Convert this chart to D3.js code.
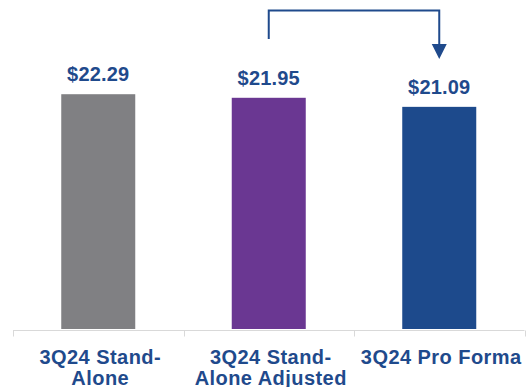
<!DOCTYPE html>
<html>
<head>
<meta charset="utf-8">
<script src="https://cdn.jsdelivr.net/npm/d3@7"></script>
<style>
  html, body { margin: 0; padding: 0; background: #fff; }
  svg { display: block; }
</style>
</head>
<body>
<div id="chart"></div>
<script>
// Book value per share, three views of 3Q24
const categories = ["3Q24 Stand-Alone", "3Q24 Stand-Alone Adjusted", "3Q24 Pro Forma"];
const labelLines = [["3Q24 Stand-", "Alone"], ["3Q24 Stand-", "Alone Adjusted"], ["3Q24 Pro Forma"]];
const values = [22.29, 21.95, 21.09];
const barColors = ["#808083", "#6A3792", "#1D4A8C"];

const W = 527, H = 387;
const textColor = "#1F4A8C";
const font = "Arial, 'Liberation Sans', sans-serif";

const svg = d3.select("#chart").append("svg")
  .attr("width", W).attr("height", H);

const x = d3.scaleBand().domain(categories).range([13, 524.5]).padding(0);
const y = d3.scaleLinear().domain([0, 30]).range([329, 13]);
const barW = x.bandwidth() * 0.434;

// baseline axis with separators between categories
const axis = d3.axisBottom(x).tickSize(0).tickFormat("");
const gAxis = svg.append("g").attr("transform", "translate(0,330.5)").call(axis);
gAxis.select(".domain").attr("stroke", "#d9d9d9").attr("stroke-width", 1)
  .attr("d", `M${x.range()[0]},0H${x.range()[1]}`);
const bounds = categories.map(c => x(c)).concat([x.range()[1]]);
gAxis.selectAll("line.sep").data(bounds).join("line")
  .attr("class", "sep")
  .attr("x1", d => Math.round(d) + 0.5).attr("x2", d => Math.round(d) + 0.5)
  .attr("y1", 0).attr("y2", 6)
  .attr("stroke", "#d9d9d9");

// bars
svg.selectAll("rect.bar").data(values).join("rect")
  .attr("class", "bar")
  .attr("x", (d, i) => x(categories[i]) + (x.bandwidth() - barW) / 2)
  .attr("width", barW)
  .attr("y", d => y(d))
  .attr("height", d => y(0) - y(d))
  .attr("fill", (d, i) => barColors[i]);

// value labels
svg.selectAll("text.val").data(values).join("text")
  .attr("class", "val")
  .attr("x", (d, i) => x(categories[i]) + x.bandwidth() / 2)
  .attr("y", d => y(d) - 13)
  .attr("text-anchor", "middle")
  .attr("font-family", font).attr("font-weight", "bold")
  .attr("font-size", 20).attr("letter-spacing", 0.2).attr("fill", textColor)
  .text(d => "$" + d.toFixed(2));

// category labels
const cat = svg.selectAll("text.cat").data(categories).join("text")
  .attr("class", "cat")
  .attr("text-anchor", "middle")
  .attr("font-family", font).attr("font-weight", "bold")
  .attr("font-size", 20).attr("letter-spacing", 0.45).attr("fill", textColor);
cat.each(function (c, i) {
  const t = d3.select(this);
  labelLines[i].forEach((line, j) => {
    t.append("tspan")
      .attr("x", x(c) + x.bandwidth() / 2 + 2)
      .attr("y", 363.5 + j * 21)
      .text(line);
  });
});

// connector arrow from the adjusted bar to the pro forma bar
const cx1 = x(categories[1]) + x.bandwidth() / 2;
const cx2 = x(categories[2]) + x.bandwidth() / 2;
svg.append("path")
  .attr("d", `M${cx1},39V10.5H${cx2}V45`)
  .attr("fill", "none").attr("stroke", textColor).attr("stroke-width", 2);
svg.append("path")
  .attr("d", `M${cx2 - 7.5},44L${cx2 + 7.5},44L${cx2},59Z`)
  .attr("fill", textColor);
</script>
</body>
</html>
